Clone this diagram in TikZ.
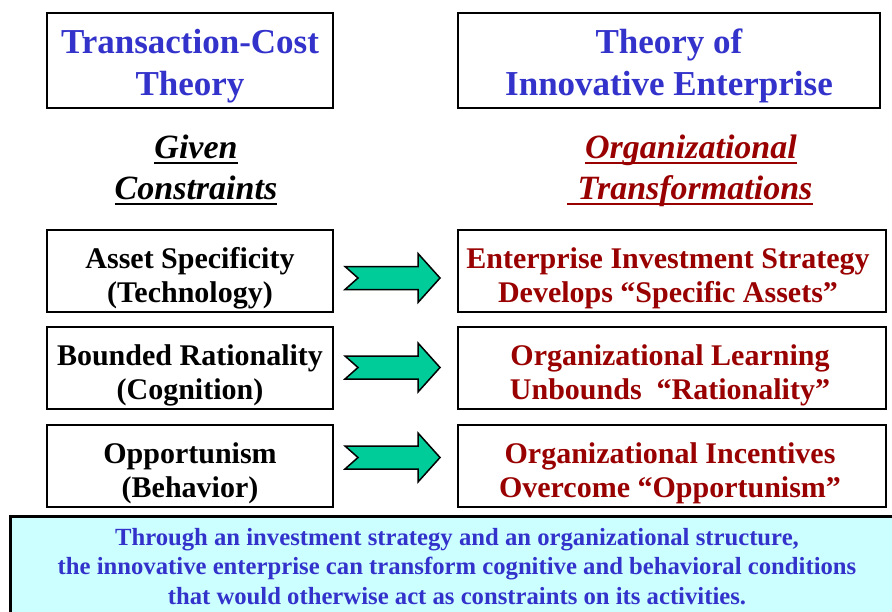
\documentclass[tikz,border=0pt]{standalone}
\usepackage{fontspec}
\setmainfont{Liberation Serif}
\definecolor{tblue}{RGB}{51,51,204}
\definecolor{dred}{RGB}{153,0,0}
\definecolor{agreen}{RGB}{0,204,153}
\definecolor{lcyan}{RGB}{204,255,255}
\tikzset{
  frame/.style={draw=black, line width=1.8pt, fill=white, inner sep=0pt},
  titletxt/.style={font=\fontsize{35}{42}\selectfont\bfseries, text=tblue, align=center, inner sep=0pt, anchor=base},
  headtxt/.style={font=\fontsize{34}{40}\selectfont\bfseries\itshape, inner sep=0pt, anchor=base},
  lefttxt/.style={font=\fontsize{30}{34}\selectfont\bfseries, text=black, align=center, inner sep=0pt, anchor=base},
  righttxt/.style={font=\fontsize{30}{34}\selectfont\bfseries, text=dred, align=center, inner sep=0pt, anchor=base},
  notetxt/.style={font=\fontsize{24.7}{29.5}\selectfont\bfseries, text=tblue, align=center, inner sep=0pt, anchor=base},
  garrow/.style={draw=black, line width=1.5pt, fill=agreen, line join=miter},
  uline/.style={line width=2.7pt}
}
\newcommand\greenarrow[1]{\draw[garrow] (#1) ++(-47.5,-11.5) -- ++(73,0) -- ++(0,-13) -- ++(22,24.5) -- ++(-22,24.5) -- ++(0,-13) -- ++(-73,0) -- ++(13,-11.5) -- cycle;}
\begin{document}
\begin{tikzpicture}[x=1pt,y=-1pt]
\useasboundingbox (0,0) rectangle (892,611);
\clip (0,0) rectangle (892,611);
\fill[white] (0,0) rectangle (892,611);

% title boxes
\node[frame, minimum width=286, minimum height=95] (tcbox) at (190,60.5) {};
\node[frame, minimum width=422, minimum height=95] (tiebox) at (669,60.5) {};
\node[titletxt] (tctext) at (190,95) {Transaction-Cost\\Theory};
\node[titletxt] (tietext) at (669,95) {Theory of\\Innovative Enterprise};

% headings
\node[headtxt, text=black] (given) at (196,158) {Given};
\node[headtxt, text=black] (constr) at (196,199) {Constraints};
\node[headtxt, text=dred] (orgz) at (691,158) {Organizational};
\node[headtxt, text=dred] (transf) at (695,199) {Transformations};
\draw[uline, black] ([yshift=-5]given.base west) -- ([yshift=-5]given.base east);
\draw[uline, black] ([yshift=-5]constr.base west) -- ([yshift=-5]constr.base east);
\draw[uline, dred] ([yshift=-5]orgz.base west) -- ([yshift=-5]orgz.base east);
\draw[uline, dred] ([xshift=-10,yshift=-5]transf.base west) -- ([yshift=-5]transf.base east);

% left boxes
\node[frame, minimum width=286, minimum height=82] (l1) at (190,271) {};
\node[frame, minimum width=286, minimum height=82] (l2) at (190,368) {};
\node[frame, minimum width=286, minimum height=82] (l3) at (190,466) {};
\node[lefttxt] (l1t) at (190,302) {Asset Specificity\\(Technology)};
\node[lefttxt] (l2t) at (190,399) {Bounded Rationality\\(Cognition)};
\node[lefttxt] (l3t) at (190,497) {Opportunism\\(Behavior)};

% right boxes
\node[frame, minimum width=428, minimum height=82] (r1) at (672,271) {};
\node[frame, minimum width=428, minimum height=82] (r2) at (672,368) {};
\node[frame, minimum width=428, minimum height=82] (r3) at (672,466) {};
\node[righttxt] (r1t) at (668,302) {Enterprise Investment Strategy\\Develops “Specific Assets”};
\node[righttxt] (r2t) at (670,399) {Organizational Learning\\Unbounds \ “Rationality”};
\node[righttxt] (r3t) at (670,497) {Organizational Incentives\\Overcome “Opportunism”};

% arrows
\coordinate (a1) at (392.5,278);
\coordinate (a2) at (392.5,367.5);
\coordinate (a3) at (392.5,457.5);
\greenarrow{a1}
\greenarrow{a2}
\greenarrow{a3}

% bottom note
\node[draw=black, line width=3pt, fill=lcyan, inner sep=0pt, minimum width=896, minimum height=106] (note) at (458,569) {};
\node[notetxt] (notet) at (457,604) {Through an investment strategy and an organizational structure,\\the innovative enterprise can transform cognitive and behavioral conditions\\that would otherwise act as constraints on its activities.};
\end{tikzpicture}
\end{document}
